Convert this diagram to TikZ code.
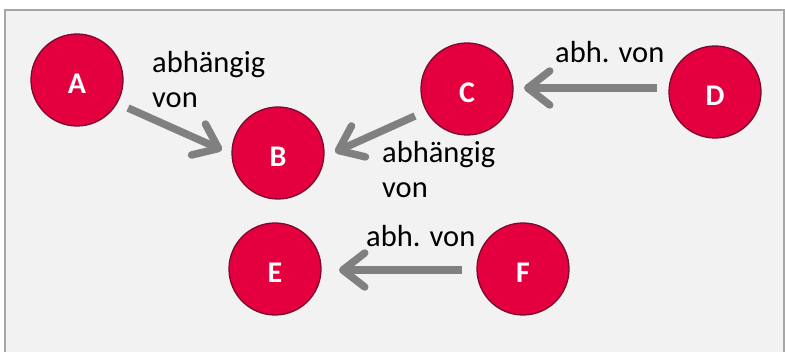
\documentclass[tikz,border=0pt]{standalone}
\usepackage{fontspec}
\setmainfont{Carlito}
\usetikzlibrary{arrows.meta}
\definecolor{nodefill}{HTML}{E4003F}
\definecolor{nodeline}{HTML}{7A0A2E}
\definecolor{bgfill}{HTML}{F2F2F2}
\definecolor{bgline}{HTML}{A6A6A6}
\definecolor{arrgray}{HTML}{808080}
\newcommand{\nlab}[1]{\raisebox{-14pt}[0pt][0pt]{#1}}
\tikzset{
  dep/.style={circle, fill=nodefill, draw=nodeline, line width=1.3pt,
    minimum size=92pt, inner sep=0pt, text=white,
    font=\fontsize{30}{32}\selectfont\bfseries},
  arr/.style={draw=arrgray, line width=7.5pt,
    -{Straight Barb[length=22pt,width=34pt,round]}},
  lbl/.style={inner sep=0pt, anchor=base west, align=left,
    font=\fontsize{30.5}{35.5}\selectfont}
}
\begin{document}
\begin{tikzpicture}[x=1pt,y=-1pt]
\useasboundingbox (0,0) rectangle (785,352);
\clip (0,0) rectangle (785,352);
\draw[fill=bgfill, draw=bgline, line width=2pt] (5,10) rectangle (784,370);
\node[dep] (A) at (77,80) {\nlab{A}};
\node[dep] (B) at (278,153) {\nlab{B}};
\node[dep] (C) at (467,89) {\nlab{C}};
\node[dep] (D) at (715,92) {\nlab{D}};
\node[dep] (E) at (275,269) {\nlab{E}};
\node[dep] (F) at (523,269) {\nlab{F}};
\draw[arr] ([shift={(51,28)}]A.center) -- ([shift={(-56,-3)}]B.center);
\draw[arr] ([shift={(-52,27)}]C.center) -- ([shift={(57,-1)}]B.center);
\draw[arr] ([shift={(-58,-4)}]D.center) -- ([shift={(57,-1)}]C.center);
\draw[arr] ([shift={(-61,1)}]F.center) -- ([shift={(64,1)}]E.center);
\node[lbl] (l1) at (152,108) {abhängig\\von};
\node[lbl] (l2) at (382,198) {abhängig\\von};
\node[lbl] (l3) at (555,63) {abh. von};
\node[lbl] (l4) at (366,247) {abh. von};
\end{tikzpicture}
\end{document}
